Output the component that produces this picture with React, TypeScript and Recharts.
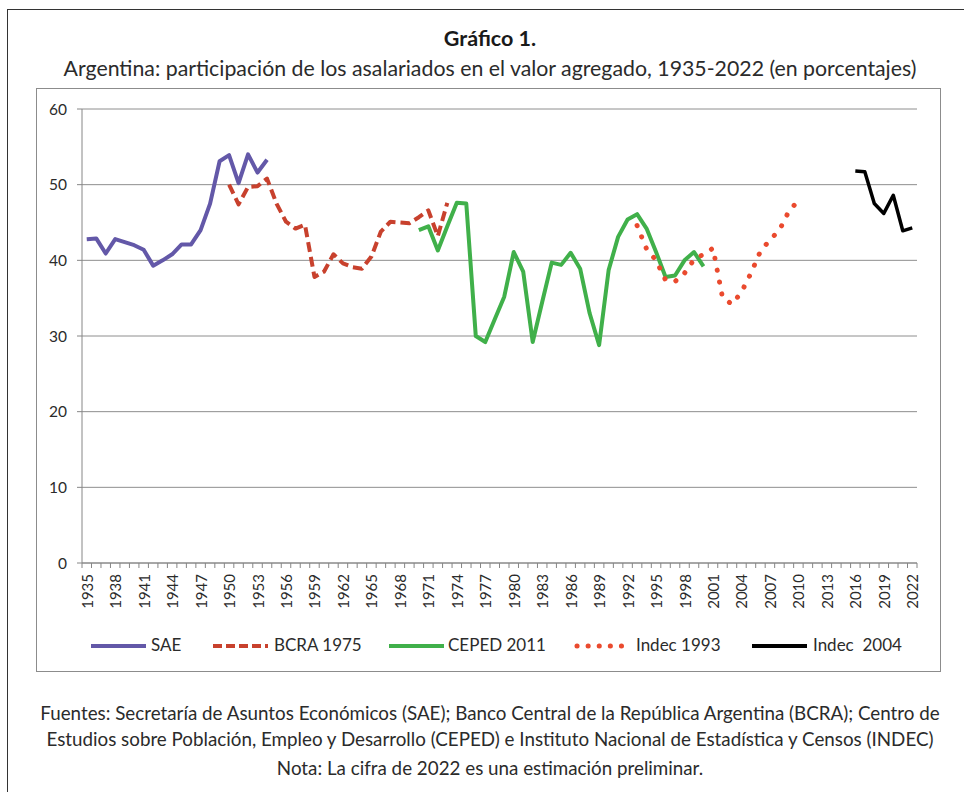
import React from "react";
import { LineChart, Line, XAxis, YAxis, CartesianGrid } from "recharts";

// years shown on the category axis
const firstYear = 1935;
const lastYear = 2022;
const years: string[] = [];
for (let y = firstYear; y <= lastYear; y++) years.push(String(y));

const yTicks = [0, 10, 20, 30, 40, 50, 60];

// SAE, 1935-1954
const saeStart = 1935;
const saeValues = [
  42.8, 42.9, 40.9, 42.8, 42.4, 42.0, 41.4, 39.3, 40.0, 40.8,
  42.1, 42.1, 44.0, 47.5, 53.1, 53.9, 50.2, 54.0, 51.6, 53.3,
];

// BCRA 1975, 1950-1973
const bcraStart = 1950;
const bcraValues = [
  50.0, 47.4, 49.7, 49.8, 50.8, 47.5, 45.1, 44.2, 44.7, 37.8,
  38.5, 40.8, 39.6, 39.1, 38.9, 40.5, 43.8, 45.1, 45.0, 44.9,
  45.7, 46.6, 43.2, 47.6,
];

// CEPED 2011, 1970-2000
const cepedStart = 1970;
const cepedValues = [
  44.0, 44.5, 41.3, 44.5, 47.6, 47.5, 30.0, 29.2, 32.2, 35.2,
  41.1, 38.5, 29.2, 34.5, 39.7, 39.4, 41.0, 38.9, 33.0, 28.8,
  38.7, 43.1, 45.4, 46.1, 44.2, 41.1, 37.8, 38.0, 40.0, 41.1,
  39.2,
];

// Indec 1993, 1993-2010
const indec93Start = 1993;
const indec93Values = [
  44.6, 41.5, 40.0, 37.4, 37.2, 38.3, 40.1, 40.8, 41.6, 35.1,
  34.2, 35.8, 38.3, 41.2, 42.7, 44.0, 46.5, 47.9,
];

// Indec 2004, 2016-2022
const indec04Start = 2016;
const indec04Values = [51.8, 51.7, 47.5, 46.2, 48.6, 43.9, 44.3];

const pick = (start: number, values: number[], year: number) => {
  const i = year - start;
  return i >= 0 && i < values.length ? values[i] : null;
};

const data = years.map((y) => {
  const n = Number(y);
  return {
    year: y,
    sae: pick(saeStart, saeValues, n),
    bcra: pick(bcraStart, bcraValues, n),
    ceped: pick(cepedStart, cepedValues, n),
    indec93: pick(indec93Start, indec93Values, n),
    indec04: pick(indec04Start, indec04Values, n),
  };
});

const FONT = 'Lato, "Open Sans", sans-serif';
const AXIS = "#868686";
const TEXT = "#2b2b2b";
const STEP = 835 / 88;

const XTick = (props: any) => {
  const { x, y, payload, index } = props;
  const axisY = y - 9;
  const half = STEP / 2;
  const ty = axisY + 11;
  return (
    <g>
      <line x1={x - half} x2={x - half} y1={axisY} y2={axisY + 5} stroke={AXIS} />
      {index === years.length - 1 && (
        <line x1={x + half} x2={x + half} y1={axisY} y2={axisY + 5} stroke={AXIS} />
      )}
      {index % 3 === 0 && (
        <text
          x={x}
          y={ty}
          transform={`rotate(-90 ${x} ${ty})`}
          textAnchor="end"
          dominantBaseline="central"
          fontSize={15}
          fontFamily={FONT}
          fill={TEXT}
        >
          {payload.value}
        </text>
      )}
    </g>
  );
};

const legendItems = [
  { label: "SAE", color: "#6358a8", dash: undefined, cap: "butt", width: 4, left: 91, textLeft: 151 },
  { label: "BCRA 1975", color: "#c8412d", dash: "9 4", cap: "butt", width: 4, left: 213, textLeft: 274 },
  { label: "CEPED 2011", color: "#40b04a", dash: undefined, cap: "butt", width: 4, left: 389, textLeft: 448 },
  { label: "Indec 1993", color: "#ea4a2e", dash: "0.1 11", cap: "round", width: 5, left: 574, textLeft: 636 },
  { label: "Indec  2004", color: "#000000", dash: undefined, cap: "butt", width: 4, left: 752, textLeft: 813 },
];

const App = () => {
  return (
    <div
      style={{
        position: "absolute",
        left: 0,
        top: 0,
        width: 964,
        height: 792,
        background: "#fff",
        overflow: "hidden",
        fontFamily: FONT,
        color: TEXT,
      }}
    >
      {/* outer frame */}
      <div
        style={{
          position: "absolute",
          left: 7,
          top: 9,
          width: 1000,
          height: 820,
          border: "1.5px solid #333",
        }}
      />
      <div
        style={{
          position: "absolute",
          left: 0,
          width: 980,
          top: 25,
          textAlign: "center",
          fontWeight: 700,
          fontSize: 21.5,
          lineHeight: "26px",
          color: "#1a1a1a",
        }}
      >
        Gráfico 1.
      </div>
      <div
        style={{
          position: "absolute",
          left: 0,
          width: 980,
          top: 55,
          textAlign: "center",
          fontSize: 21.3,
          lineHeight: "26px",
        }}
      >
        Argentina: participación de los asalariados en el valor agregado, 1935-2022 (en porcentajes)
      </div>

      {/* chart box */}
      <div
        style={{
          position: "absolute",
          left: 36,
          top: 88,
          width: 903,
          height: 582,
          border: "1px solid #8c8c8c",
          background: "#fff",
        }}
      >
        <LineChart
          width={903}
          height={582}
          data={data}
          margin={{ top: 20, right: 23, left: 0, bottom: 0 }}
        >
          <CartesianGrid vertical={false} stroke="#8e8e8e" strokeWidth={1} />
          <XAxis
            dataKey="year"
            interval={0}
            height={108}
            padding={{ left: STEP / 2, right: STEP / 2 }}
            tickLine={false}
            tickSize={5}
            tickMargin={4}
            axisLine={{ stroke: AXIS }}
            tick={<XTick />}
          />
          <YAxis
            width={45}
            domain={[0, 60]}
            ticks={yTicks}
            tickSize={5}
            tickMargin={10}
            axisLine={{ stroke: AXIS }}
            tickLine={{ stroke: AXIS }}
            tick={{ fontSize: 15.5, fill: TEXT, fontFamily: FONT }}
          />
          <Line
            type="linear"
            dataKey="sae"
            stroke="#6358a8"
            strokeWidth={4}
            strokeLinejoin="round"
            dot={false}
            isAnimationActive={false}
          />
          <Line
            type="linear"
            dataKey="bcra"
            stroke="#c8412d"
            strokeWidth={4}
            strokeDasharray="10 5"
            strokeLinejoin="round"
            dot={false}
            isAnimationActive={false}
          />
          <Line
            type="linear"
            dataKey="ceped"
            stroke="#40b04a"
            strokeWidth={4}
            strokeLinejoin="round"
            dot={false}
            isAnimationActive={false}
          />
          <Line
            type="linear"
            dataKey="indec93"
            stroke="#ea4a2e"
            strokeWidth={5}
            strokeDasharray="0.1 12"
            strokeLinecap="round"
            dot={false}
            isAnimationActive={false}
          />
          <Line
            type="linear"
            dataKey="indec04"
            stroke="#000000"
            strokeWidth={3.5}
            strokeLinejoin="round"
            dot={false}
            isAnimationActive={false}
          />
        </LineChart>
      </div>

      {/* legend */}
      {legendItems.map((it) => (
        <React.Fragment key={it.label}>
          <svg
            width={60}
            height={10}
            style={{ position: "absolute", left: it.left, top: 641 }}
          >
            <line
              x1={it.cap === "round" ? 3 : 0}
              x2={55}
              y1={5}
              y2={5}
              stroke={it.color}
              strokeWidth={it.width}
              strokeDasharray={it.dash}
              strokeLinecap={it.cap as any}
            />
          </svg>
          <div
            style={{
              position: "absolute",
              left: it.textLeft,
              top: 634,
              fontSize: 17,
              lineHeight: "22px",
              whiteSpace: "pre",
            }}
          >
            {it.label}
          </div>
        </React.Fragment>
      ))}

      {/* sources */}
      <div
        style={{
          position: "absolute",
          left: 0,
          width: 980,
          top: 700,
          textAlign: "center",
          fontSize: 18.8,
          lineHeight: "26px",
        }}
      >
        Fuentes: Secretaría de Asuntos Económicos (SAE); Banco Central de la República Argentina (BCRA); Centro de
        <br />
        Estudios sobre Población, Empleo y Desarrollo (CEPED) e Instituto Nacional de Estadística y Censos (INDEC)
      </div>
      <div
        style={{
          position: "absolute",
          left: 0,
          width: 980,
          top: 755,
          textAlign: "center",
          fontSize: 18.8,
          lineHeight: "26px",
        }}
      >
        Nota: La cifra de 2022 es una estimación preliminar.
      </div>
    </div>
  );
};

export default App;
